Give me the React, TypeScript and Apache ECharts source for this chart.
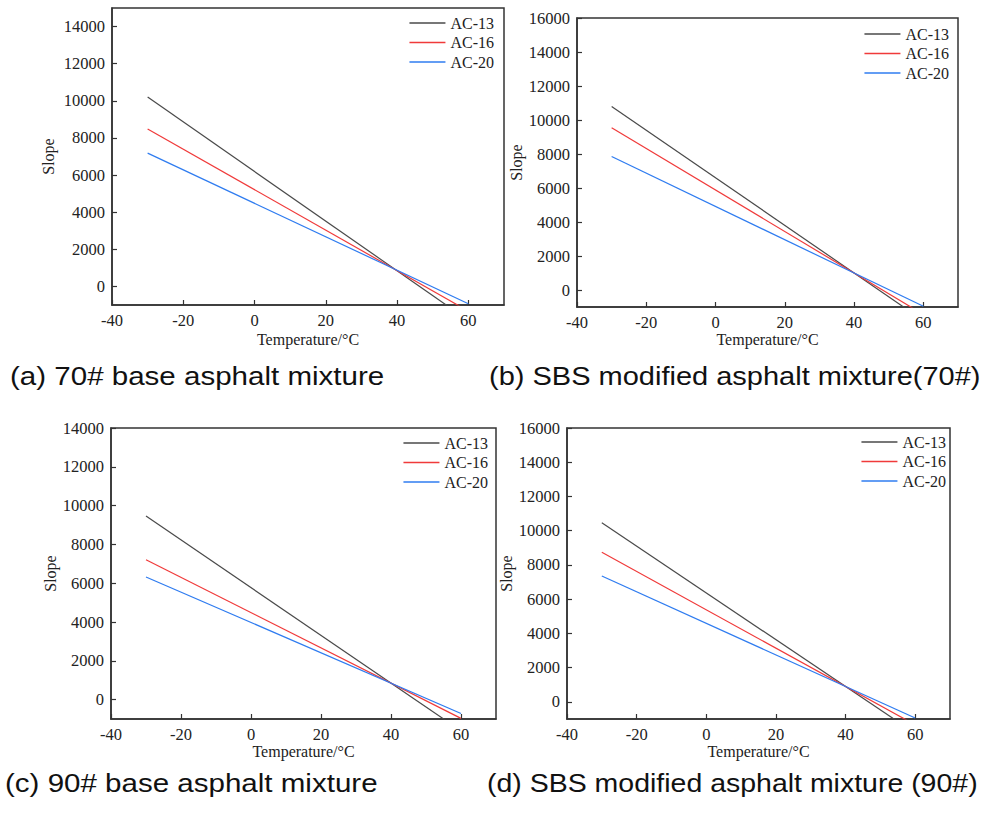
import React, { useEffect, useRef } from "react";
import * as echarts from "echarts";

const seriesNames = ["AC-13", "AC-16", "AC-20"];
const temperatures = [-30, 60];

// slope values at -30 °C and 60 °C per panel (clipped by the axis at -1000)
const panelA13 = [10200, -1830];
const panelA16 = [8480, -1330];
const panelA20 = [7180, -930];

const panelB13 = [10800, -1800];
const panelB16 = [9540, -1440];
const panelB20 = [7850, -957];

const panelC13 = [9460, -1610];
const panelC16 = [7210, -967];
const panelC20 = [6320, -713];

const panelD13 = [10470, -1834];
const panelD16 = [8740, -1340];
const panelD20 = [7355, -944];

const xTicks = [-40, -20, 0, 20, 40, 60];
const yTicks14 = [0, 2000, 4000, 6000, 8000, 10000, 12000, 14000];
const yTicks16 = [0, 2000, 4000, 6000, 8000, 10000, 12000, 14000, 16000];

const captions = [
  "(a) 70# base asphalt mixture",
  "(b) SBS modified asphalt mixture(70#)",
  "(c) 90# base asphalt mixture",
  "(d) SBS modified asphalt mixture (90#)",
];

const colors = ["#4a4a4a", "#f03a3a", "#2f7cf0"];

export default function App() {
  const ref = useRef<HTMLDivElement>(null);

  useEffect(() => {
    if (!ref.current) return;
    const chart = echarts.init(ref.current, null, { renderer: "svg" });

    const serif = "Liberation Serif";
    const panels = [
      {
        grid: { left: 112, top: 8, width: 392, height: 297 },
        yMax: 15000, yTicks: yTicks14, xGap: 26, yGap: 56,
        legend: { right: 496, top: 14 },
        data: [panelA13, panelA16, panelA20],
      },
      {
        grid: { left: 577, top: 18, width: 381, height: 289 },
        yMax: 16000, yTicks: yTicks16, xGap: 24, yGap: 49,
        legend: { right: 41, top: 25 },
        data: [panelB13, panelB16, panelB20],
      },
      {
        grid: { left: 111, top: 428, width: 385, height: 291 },
        yMax: 14000, yTicks: yTicks14, xGap: 21, yGap: 51,
        legend: { right: 502, top: 434 },
        data: [panelC13, panelC16, panelC20],
      },
      {
        grid: { left: 567, top: 428, width: 383, height: 291 },
        yMax: 16000, yTicks: yTicks16, xGap: 21, yGap: 47,
        legend: { right: 44, top: 433 },
        data: [panelD13, panelD16, panelD20],
      },
    ];

    const axisLineStyle = { color: "#333", width: 1.5 };
    const baseLabel = { margin: 7, fontFamily: serif, fontSize: 16.5, color: "#222" };
    const nameStyle = { fontFamily: serif, fontSize: 16, color: "#222" };

    const option: any = {
      animation: false,
      backgroundColor: "#fff",
      textStyle: { fontFamily: serif },
      grid: panels.map((p) => ({
        ...p.grid,
        show: true,
        borderColor: "#333",
        borderWidth: 1.5,
        backgroundColor: "transparent",
        containLabel: false,
      })),
      xAxis: panels.map((p, i) => ({
        gridIndex: i,
        type: "value",
        min: -40,
        max: 70,
        interval: 20,
        name: "Temperature/°C",
        nameLocation: "middle",
        nameGap: p.xGap,
        nameTextStyle: nameStyle,
        axisLine: { onZero: false, lineStyle: axisLineStyle },
        axisTick: { inside: true, length: 5, customValues: xTicks, lineStyle: { color: "#333", width: 1.2 } },
        axisLabel: {
          ...baseLabel,
          showMaxLabel: false,
          formatter: (v: number) => (xTicks.indexOf(v) >= 0 ? String(v) : ""),
        },
        splitLine: { show: false },
      })),
      yAxis: panels.map((p, i) => ({
        gridIndex: i,
        type: "value",
        min: -1000,
        max: p.yMax,
        interval: 1000,
        name: "Slope",
        nameLocation: "middle",
        nameGap: p.yGap,
        nameTextStyle: nameStyle,
        axisLine: { onZero: false, lineStyle: axisLineStyle },
        axisTick: { inside: true, length: 5, customValues: p.yTicks, lineStyle: { color: "#333", width: 1.2 } },
        axisLabel: {
          ...baseLabel,
          formatter: (v: number) => (p.yTicks.indexOf(v) >= 0 ? String(v) : ""),
        },
        splitLine: { show: false },
      })),
      legend: panels.map((p) => ({
        data: seriesNames.map((n, k) => ({ name: n, itemStyle: { color: colors[k] } })),
        orient: "vertical",
        right: p.legend.right,
        top: p.legend.top + 1,
        padding: 0,
        icon: "rect",
        itemWidth: 36,
        itemHeight: 1.3,
        itemGap: 3.5,
        textStyle: { fontFamily: serif, fontSize: 16, color: "#222", lineHeight: 15 },
        selectedMode: false,
      })),
      series: panels.flatMap((p, i) =>
        p.data.map((vals, k) => ({
          name: seriesNames[k],
          type: "line",
          xAxisIndex: i,
          yAxisIndex: i,
          symbol: "none",
          clip: true,
          lineStyle: { color: colors[k], width: 1.2 },
          itemStyle: { color: colors[k] },
          data: temperatures.map((t, j) => [t, vals[j]]),
        }))
      ),
      graphic: [
        { x: 10, y: 376, s: 1.115, text: captions[0] },
        { x: 489, y: 376, s: 1.095, text: captions[1] },
        { x: 5, y: 783, s: 1.115, text: captions[2] },
        { x: 487, y: 783, s: 1.075, text: captions[3] },
      ].map((c) => ({
        type: "text",
        x: c.x,
        y: c.y,
        scaleX: c.s,
        style: {
          text: c.text,
          font: '26.5px "Liberation Sans"',
          fill: "#111",
          verticalAlign: "middle",
        },
      })),
    };

    chart.setOption(option);
    return () => chart.dispose();
  }, []);

  return (
    <div
      ref={ref}
      style={{ position: "fixed", left: 0, top: 0, width: 990, height: 813 }}
    />
  );
}
